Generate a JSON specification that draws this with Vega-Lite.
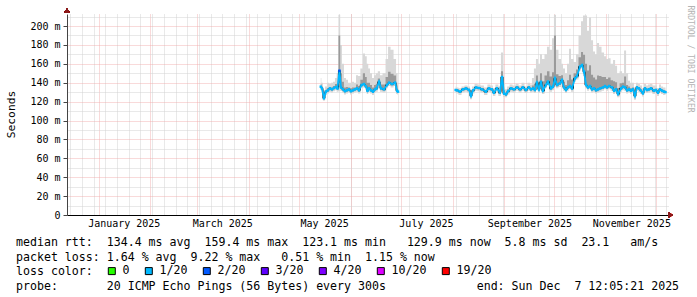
{
  "$schema": "https://vega.github.io/schema/vega-lite/v6.json",
  "width": 601,
  "height": 201,
  "autosize": {"type": "none"},
  "padding": {"left": 67, "top": 14, "right": 29, "bottom": 82},
  "background": "#ffffff",
  "config": {
    "font": "DejaVu Sans Mono",
    "view": {"stroke": null},
    "legend": {"labelFont": "DejaVu Sans Mono"}
  },
  "title": {
    "text": [
      "median rtt:\u00a0\u00a0134.4 ms avg\u00a0\u00a0159.4 ms max\u00a0\u00a0123.1 ms min\u00a0\u00a0\u00a0129.9 ms now\u00a0\u00a05.8 ms sd\u00a0\u00a023.1\u00a0\u00a0\u00a0am/s",
      "packet loss: 1.64 % avg\u00a0\u00a09.22 % max\u00a0\u00a0\u00a00.51 % min\u00a0\u00a01.15 % now",
      "loss color:",
      "probe:\u00a0\u00a0\u00a0\u00a0\u00a0\u00a0\u00a020 ICMP Echo Pings (56 Bytes) every 300s\u00a0\u00a0\u00a0\u00a0\u00a0\u00a0\u00a0\u00a0\u00a0\u00a0\u00a0\u00a0\u00a0end: Sun Dec\u00a0\u00a07 12:05:21 2025"
    ],
    "orient": "bottom",
    "anchor": "start",
    "frame": "group",
    "dx": -51,
    "dy": -46,
    "offset": 6,
    "font": "DejaVu Sans Mono",
    "fontSize": 11.6,
    "fontWeight": "normal",
    "color": "#000000",
    "lineHeight": 14.5
  },
  "data": {
    "values": [
      {"t": "2025-05-14T00:00", "seg": "a", "lo": 132, "q1": 134.3, "med": 135.8, "q3": 138.5, "hi": 145, "loss": "1/20"},
      {"t": "2025-05-14T17:00", "seg": "a", "lo": 130.5, "q1": 132.5, "med": 134, "q3": 136, "hi": 140, "loss": "1/20"},
      {"t": "2025-05-15T22:00", "seg": "a", "lo": 121, "q1": 122.5, "med": 123.5, "q3": 126, "hi": 132, "loss": "1/20"},
      {"t": "2025-05-17T02:00", "seg": "a", "lo": 127, "q1": 129, "med": 130.5, "q3": 132, "hi": 136, "loss": "1/20"},
      {"t": "2025-05-18T07:00", "seg": "a", "lo": 128.5, "q1": 130.5, "med": 132, "q3": 134.5, "hi": 140, "loss": "1/20"},
      {"t": "2025-05-19T12:00", "seg": "a", "lo": 130.5, "q1": 132.5, "med": 134, "q3": 135.5, "hi": 139, "loss": "1/20"},
      {"t": "2025-05-20T17:00", "seg": "a", "lo": 129.5, "q1": 131.5, "med": 133, "q3": 135, "hi": 140, "loss": "1/20"},
      {"t": "2025-05-21T22:00", "seg": "a", "lo": 131, "q1": 133, "med": 134.4, "q3": 136.5, "hi": 141, "loss": "1/20"},
      {"t": "2025-05-23T02:00", "seg": "a", "lo": 132, "q1": 134, "med": 135.4, "q3": 138.5, "hi": 145, "loss": "1/20"},
      {"t": "2025-05-24T00:00", "seg": "a", "lo": 130.5, "q1": 132.5, "med": 134, "q3": 139, "hi": 150, "loss": "1/20"},
      {"t": "2025-05-25T05:00", "seg": "a", "lo": 131, "q1": 140, "med": 152.7, "q3": 190, "hi": 212, "loss": "2/20"},
      {"t": "2025-05-26T02:00", "seg": "a", "lo": 131.5, "q1": 133.5, "med": 135, "q3": 150, "hi": 180, "loss": "1/20"},
      {"t": "2025-05-27T07:00", "seg": "a", "lo": 129.5, "q1": 131.5, "med": 133, "q3": 141, "hi": 160, "loss": "1/20"},
      {"t": "2025-05-28T12:00", "seg": "a", "lo": 127.5, "q1": 129.5, "med": 131, "q3": 135, "hi": 145, "loss": "1/20"},
      {"t": "2025-05-29T17:00", "seg": "a", "lo": 128.5, "q1": 130.5, "med": 132, "q3": 135.5, "hi": 143, "loss": "1/20"},
      {"t": "2025-05-30T22:00", "seg": "a", "lo": 129.5, "q1": 131.5, "med": 133, "q3": 135, "hi": 140, "loss": "1/20"},
      {"t": "2025-06-01T02:00", "seg": "a", "lo": 127.5, "q1": 129.5, "med": 131, "q3": 134, "hi": 140, "loss": "1/20"},
      {"t": "2025-06-02T07:00", "seg": "a", "lo": 128.5, "q1": 130.5, "med": 132, "q3": 135, "hi": 141, "loss": "1/20"},
      {"t": "2025-06-03T12:00", "seg": "a", "lo": 129.5, "q1": 131.5, "med": 133, "q3": 135, "hi": 140, "loss": "1/20"},
      {"t": "2025-06-04T17:00", "seg": "a", "lo": 130.5, "q1": 132.5, "med": 134, "q3": 138, "hi": 148, "loss": "1/20"},
      {"t": "2025-06-05T22:00", "seg": "a", "lo": 128.5, "q1": 130.5, "med": 132, "q3": 136.5, "hi": 147, "loss": "1/20"},
      {"t": "2025-06-07T12:00", "seg": "a", "lo": 134, "q1": 136, "med": 137.6, "q3": 143, "hi": 155, "loss": "1/20"},
      {"t": "2025-06-08T22:00", "seg": "a", "lo": 135, "q1": 137, "med": 138.6, "q3": 150, "hi": 171, "loss": "1/20"},
      {"t": "2025-06-10T02:00", "seg": "a", "lo": 132.5, "q1": 134.5, "med": 136, "q3": 146, "hi": 168, "loss": "1/20"},
      {"t": "2025-06-11T00:00", "seg": "a", "lo": 128, "q1": 130, "med": 131.5, "q3": 140, "hi": 160, "loss": "1/20"},
      {"t": "2025-06-11T22:00", "seg": "a", "lo": 130.5, "q1": 132.5, "med": 134, "q3": 140, "hi": 155, "loss": "1/20"},
      {"t": "2025-06-13T02:00", "seg": "a", "lo": 128.5, "q1": 130.5, "med": 132, "q3": 137.5, "hi": 150, "loss": "1/20"},
      {"t": "2025-06-14T07:00", "seg": "a", "lo": 127, "q1": 129, "med": 130.5, "q3": 135, "hi": 145, "loss": "1/20"},
      {"t": "2025-06-15T12:00", "seg": "a", "lo": 129.5, "q1": 131.5, "med": 133, "q3": 137.5, "hi": 148, "loss": "1/20"},
      {"t": "2025-06-16T10:00", "seg": "a", "lo": 130.5, "q1": 132.5, "med": 134, "q3": 139, "hi": 150, "loss": "1/20"},
      {"t": "2025-06-17T22:00", "seg": "a", "lo": 137, "q1": 139, "med": 141, "q3": 144.5, "hi": 152, "loss": "1/20"},
      {"t": "2025-06-19T02:00", "seg": "a", "lo": 130.5, "q1": 132.5, "med": 134, "q3": 138, "hi": 148, "loss": "1/20"},
      {"t": "2025-06-20T22:00", "seg": "a", "lo": 129.5, "q1": 131.5, "med": 133, "q3": 138, "hi": 150, "loss": "1/20"},
      {"t": "2025-06-22T17:00", "seg": "a", "lo": 134, "q1": 136, "med": 137.6, "q3": 146, "hi": 165, "loss": "1/20"},
      {"t": "2025-06-23T22:00", "seg": "a", "lo": 136.5, "q1": 138.5, "med": 140, "q3": 151.5, "hi": 178, "loss": "1/20"},
      {"t": "2025-06-25T17:00", "seg": "a", "lo": 135, "q1": 137, "med": 138.6, "q3": 149.5, "hi": 175, "loss": "1/20"},
      {"t": "2025-06-27T12:00", "seg": "a", "lo": 136.5, "q1": 138.5, "med": 140, "q3": 147.5, "hi": 165, "loss": "1/20"},
      {"t": "2025-06-28T17:00", "seg": "a", "lo": 128, "q1": 130, "med": 131.5, "q3": 137, "hi": 150, "loss": "1/20"},
      {"t": "2025-06-29T07:00", "seg": "a", "lo": 127, "q1": 129, "med": 130.5, "q3": 133.5, "hi": 140, "loss": "1/20"},
      {"t": "2025-08-02T19:00", "seg": "b", "lo": 129, "q1": 131, "med": 132.3, "q3": 133.5, "hi": 136, "loss": "1/20"},
      {"t": "2025-08-03T14:00", "seg": "b", "lo": 128.5, "q1": 130.5, "med": 132, "q3": 133, "hi": 135, "loss": "1/20"},
      {"t": "2025-08-05T10:00", "seg": "b", "lo": 127, "q1": 129, "med": 130.5, "q3": 131.5, "hi": 134, "loss": "1/20"},
      {"t": "2025-08-07T05:00", "seg": "b", "lo": 129.5, "q1": 131.5, "med": 133, "q3": 134, "hi": 136, "loss": "1/20"},
      {"t": "2025-08-09T00:00", "seg": "b", "lo": 130.5, "q1": 132.5, "med": 134, "q3": 135, "hi": 137, "loss": "1/20"},
      {"t": "2025-08-10T19:00", "seg": "b", "lo": 129, "q1": 131, "med": 132.5, "q3": 133.5, "hi": 136, "loss": "1/20"},
      {"t": "2025-08-12T00:00", "seg": "b", "lo": 122.5, "q1": 124.5, "med": 126, "q3": 128, "hi": 132, "loss": "1/20"},
      {"t": "2025-08-13T05:00", "seg": "b", "lo": 128.5, "q1": 130.5, "med": 132, "q3": 133, "hi": 136, "loss": "1/20"},
      {"t": "2025-08-15T00:00", "seg": "b", "lo": 131.5, "q1": 133.5, "med": 135, "q3": 136, "hi": 139, "loss": "1/20"},
      {"t": "2025-08-16T19:00", "seg": "b", "lo": 131, "q1": 133, "med": 134.4, "q3": 135.5, "hi": 138, "loss": "1/20"},
      {"t": "2025-08-18T14:00", "seg": "b", "lo": 129.5, "q1": 131.5, "med": 133, "q3": 134, "hi": 137, "loss": "1/20"},
      {"t": "2025-08-20T22:00", "seg": "b", "lo": 127, "q1": 129, "med": 130.5, "q3": 132, "hi": 135, "loss": "1/20"},
      {"t": "2025-08-22T17:00", "seg": "b", "lo": 130.5, "q1": 132.5, "med": 134, "q3": 135, "hi": 138, "loss": "1/20"},
      {"t": "2025-08-24T12:00", "seg": "b", "lo": 129.5, "q1": 131.5, "med": 133, "q3": 134, "hi": 137, "loss": "1/20"},
      {"t": "2025-08-25T17:00", "seg": "b", "lo": 126, "q1": 128, "med": 129.4, "q3": 131, "hi": 134, "loss": "1/20"},
      {"t": "2025-08-27T12:00", "seg": "b", "lo": 130.5, "q1": 132.5, "med": 134, "q3": 135, "hi": 138, "loss": "1/20"},
      {"t": "2025-08-29T07:00", "seg": "b", "lo": 126, "q1": 128, "med": 129.8, "q3": 132, "hi": 136, "loss": "1/20"},
      {"t": "2025-08-30T14:00", "seg": "b", "lo": 131, "q1": 140, "med": 146, "q3": 152, "hi": 172, "loss": "1/20"},
      {"t": "2025-08-31T19:00", "seg": "b", "lo": 125, "q1": 127, "med": 128.5, "q3": 132, "hi": 140, "loss": "1/20"},
      {"t": "2025-09-02T00:00", "seg": "b", "lo": 124.5, "q1": 126, "med": 127.7, "q3": 129.5, "hi": 133, "loss": "1/20"},
      {"t": "2025-09-03T05:00", "seg": "b", "lo": 127.5, "q1": 129.5, "med": 131, "q3": 133, "hi": 136, "loss": "1/20"},
      {"t": "2025-09-05T00:00", "seg": "b", "lo": 130.5, "q1": 132.5, "med": 134, "q3": 135.5, "hi": 138, "loss": "1/20"},
      {"t": "2025-09-06T19:00", "seg": "b", "lo": 129.5, "q1": 131.5, "med": 133, "q3": 134.5, "hi": 137, "loss": "1/20"},
      {"t": "2025-09-08T14:00", "seg": "b", "lo": 131.5, "q1": 133.5, "med": 135, "q3": 136.5, "hi": 139, "loss": "1/20"},
      {"t": "2025-09-10T10:00", "seg": "b", "lo": 129.5, "q1": 131.5, "med": 133, "q3": 134.5, "hi": 137, "loss": "1/20"},
      {"t": "2025-09-12T02:00", "seg": "b", "lo": 131.5, "q1": 133.5, "med": 135, "q3": 136.5, "hi": 140, "loss": "1/20"},
      {"t": "2025-09-13T22:00", "seg": "b", "lo": 129, "q1": 131, "med": 132.3, "q3": 133.5, "hi": 136, "loss": "1/20"},
      {"t": "2025-09-15T17:00", "seg": "b", "lo": 131.5, "q1": 133.5, "med": 135, "q3": 136.5, "hi": 140, "loss": "1/20"},
      {"t": "2025-09-16T22:00", "seg": "b", "lo": 129.5, "q1": 131.5, "med": 133, "q3": 134.5, "hi": 138, "loss": "1/20"},
      {"t": "2025-09-18T02:00", "seg": "b", "lo": 130.5, "q1": 132.5, "med": 134, "q3": 137, "hi": 145, "loss": "1/20"},
      {"t": "2025-09-19T07:00", "seg": "b", "lo": 129, "q1": 131, "med": 132.3, "q3": 139, "hi": 155, "loss": "1/20"},
      {"t": "2025-09-20T12:00", "seg": "b", "lo": 136.5, "q1": 138.5, "med": 140, "q3": 147.5, "hi": 165, "loss": "1/20"},
      {"t": "2025-09-21T17:00", "seg": "b", "lo": 129.5, "q1": 131.5, "med": 133, "q3": 141, "hi": 160, "loss": "1/20"},
      {"t": "2025-09-22T22:00", "seg": "b", "lo": 137.5, "q1": 139.5, "med": 141, "q3": 150, "hi": 170, "loss": "1/20"},
      {"t": "2025-09-24T02:00", "seg": "b", "lo": 128, "q1": 130, "med": 131.5, "q3": 141.5, "hi": 165, "loss": "1/20"},
      {"t": "2025-09-25T22:00", "seg": "b", "lo": 134, "q1": 136, "med": 137.6, "q3": 147.5, "hi": 170, "loss": "1/20"},
      {"t": "2025-09-27T02:00", "seg": "b", "lo": 137.5, "q1": 139.5, "med": 141, "q3": 152, "hi": 178, "loss": "1/20"},
      {"t": "2025-09-28T22:00", "seg": "b", "lo": 130.5, "q1": 132.5, "med": 134, "q3": 146.5, "hi": 175, "loss": "1/20"},
      {"t": "2025-09-30T02:00", "seg": "b", "lo": 132, "q1": 134, "med": 135.8, "q3": 151, "hi": 187, "loss": "1/20"},
      {"t": "2025-10-01T07:00", "seg": "b", "lo": 136, "q1": 141, "med": 144.6, "q3": 190, "hi": 212, "loss": "1/20"},
      {"t": "2025-10-02T12:00", "seg": "b", "lo": 134, "q1": 136, "med": 137.6, "q3": 149, "hi": 175, "loss": "1/20"},
      {"t": "2025-10-04T07:00", "seg": "b", "lo": 135.5, "q1": 137.5, "med": 139.3, "q3": 147, "hi": 165, "loss": "1/20"},
      {"t": "2025-10-05T12:00", "seg": "b", "lo": 139, "q1": 141, "med": 142.9, "q3": 148, "hi": 160, "loss": "1/20"},
      {"t": "2025-10-06T17:00", "seg": "b", "lo": 131.5, "q1": 133.5, "med": 135, "q3": 141, "hi": 155, "loss": "1/20"},
      {"t": "2025-10-07T22:00", "seg": "b", "lo": 129, "q1": 131, "med": 132.3, "q3": 137.5, "hi": 150, "loss": "1/20"},
      {"t": "2025-10-09T02:00", "seg": "b", "lo": 131.5, "q1": 133.5, "med": 135, "q3": 142.5, "hi": 160, "loss": "1/20"},
      {"t": "2025-10-10T07:00", "seg": "b", "lo": 133, "q1": 135, "med": 136.5, "q3": 148.5, "hi": 176, "loss": "1/20"},
      {"t": "2025-10-11T12:00", "seg": "b", "lo": 130.5, "q1": 132.5, "med": 134, "q3": 143.5, "hi": 165, "loss": "1/20"},
      {"t": "2025-10-13T07:00", "seg": "b", "lo": 141, "q1": 143, "med": 144.6, "q3": 150, "hi": 162, "loss": "1/20"},
      {"t": "2025-10-14T12:00", "seg": "b", "lo": 143.5, "q1": 145.5, "med": 147, "q3": 154, "hi": 170, "loss": "1/20"},
      {"t": "2025-10-16T07:00", "seg": "b", "lo": 153, "q1": 155, "med": 157, "q3": 167, "hi": 190, "loss": "1/20"},
      {"t": "2025-10-17T12:00", "seg": "b", "lo": 155, "q1": 157, "med": 158.7, "q3": 172.5, "hi": 205, "loss": "1/20"},
      {"t": "2025-10-18T17:00", "seg": "b", "lo": 147, "q1": 149.5, "med": 151.6, "q3": 169.5, "hi": 211, "loss": "1/20"},
      {"t": "2025-10-19T22:00", "seg": "b", "lo": 134, "q1": 136, "med": 137.6, "q3": 160, "hi": 211, "loss": "1/20"},
      {"t": "2025-10-21T02:00", "seg": "b", "lo": 131.5, "q1": 133.5, "med": 135, "q3": 153, "hi": 195, "loss": "1/20"},
      {"t": "2025-10-22T07:00", "seg": "b", "lo": 133, "q1": 135, "med": 136.5, "q3": 158.5, "hi": 209, "loss": "1/20"},
      {"t": "2025-10-23T12:00", "seg": "b", "lo": 129.5, "q1": 131.5, "med": 133, "q3": 148.5, "hi": 185, "loss": "1/20"},
      {"t": "2025-10-24T17:00", "seg": "b", "lo": 130.5, "q1": 132.5, "med": 134, "q3": 145.5, "hi": 173, "loss": "1/20"},
      {"t": "2025-10-25T22:00", "seg": "b", "lo": 128.5, "q1": 130.5, "med": 132, "q3": 143.5, "hi": 170, "loss": "1/20"},
      {"t": "2025-10-27T02:00", "seg": "b", "lo": 129.5, "q1": 131.5, "med": 133, "q3": 147.5, "hi": 182, "loss": "1/20"},
      {"t": "2025-10-28T07:00", "seg": "b", "lo": 130.5, "q1": 132.5, "med": 134, "q3": 147, "hi": 178, "loss": "1/20"},
      {"t": "2025-10-30T02:00", "seg": "b", "lo": 131.5, "q1": 133.5, "med": 135, "q3": 146, "hi": 172, "loss": "1/20"},
      {"t": "2025-10-31T07:00", "seg": "b", "lo": 133, "q1": 135, "med": 136.5, "q3": 146, "hi": 168, "loss": "1/20"},
      {"t": "2025-11-01T12:00", "seg": "b", "lo": 131.5, "q1": 133.5, "med": 135, "q3": 144, "hi": 165, "loss": "1/20"},
      {"t": "2025-11-02T17:00", "seg": "b", "lo": 133, "q1": 135, "med": 136.5, "q3": 145.5, "hi": 166, "loss": "1/20"},
      {"t": "2025-11-04T12:00", "seg": "b", "lo": 131.5, "q1": 133.5, "med": 135, "q3": 142.5, "hi": 160, "loss": "1/20"},
      {"t": "2025-11-05T17:00", "seg": "b", "lo": 128, "q1": 130, "med": 131.5, "q3": 141.5, "hi": 164, "loss": "1/20"},
      {"t": "2025-11-06T22:00", "seg": "b", "lo": 129.5, "q1": 131.5, "med": 133, "q3": 140.5, "hi": 158, "loss": "1/20"},
      {"t": "2025-11-08T02:00", "seg": "b", "lo": 124.5, "q1": 126.5, "med": 128, "q3": 134.5, "hi": 150, "loss": "1/20"},
      {"t": "2025-11-09T22:00", "seg": "b", "lo": 130.5, "q1": 132.5, "med": 134, "q3": 139.5, "hi": 152, "loss": "1/20"},
      {"t": "2025-11-11T02:00", "seg": "b", "lo": 132, "q1": 134, "med": 135.8, "q3": 140, "hi": 150, "loss": "1/20"},
      {"t": "2025-11-12T07:00", "seg": "b", "lo": 131.5, "q1": 133.5, "med": 135, "q3": 146.5, "hi": 174, "loss": "1/20"},
      {"t": "2025-11-13T12:00", "seg": "b", "lo": 128.5, "q1": 130.5, "med": 132, "q3": 137.5, "hi": 150, "loss": "1/20"},
      {"t": "2025-11-14T17:00", "seg": "b", "lo": 129.5, "q1": 131.5, "med": 133, "q3": 136, "hi": 142, "loss": "1/20"},
      {"t": "2025-11-15T19:00", "seg": "b", "lo": 128, "q1": 130, "med": 131.5, "q3": 134, "hi": 140, "loss": "1/20"},
      {"t": "2025-11-17T00:00", "seg": "b", "lo": 129.5, "q1": 131.5, "med": 133, "q3": 135, "hi": 140, "loss": "1/20"},
      {"t": "2025-11-18T05:00", "seg": "b", "lo": 122, "q1": 124.5, "med": 126, "q3": 129, "hi": 135, "loss": "1/20"},
      {"t": "2025-11-19T10:00", "seg": "b", "lo": 131.5, "q1": 133.5, "med": 135, "q3": 136.5, "hi": 140, "loss": "1/20"},
      {"t": "2025-11-20T14:00", "seg": "b", "lo": 130.5, "q1": 132.5, "med": 134, "q3": 135.5, "hi": 139, "loss": "1/20"},
      {"t": "2025-11-21T19:00", "seg": "b", "lo": 128, "q1": 130, "med": 131.5, "q3": 133, "hi": 137, "loss": "1/20"},
      {"t": "2025-11-23T00:00", "seg": "b", "lo": 125.5, "q1": 127.5, "med": 128.8, "q3": 130.5, "hi": 134, "loss": "1/20"},
      {"t": "2025-11-24T05:00", "seg": "b", "lo": 130.5, "q1": 132.5, "med": 134, "q3": 135.5, "hi": 139, "loss": "1/20"},
      {"t": "2025-11-25T10:00", "seg": "b", "lo": 129, "q1": 131, "med": 132.3, "q3": 133.5, "hi": 137, "loss": "1/20"},
      {"t": "2025-11-26T14:00", "seg": "b", "lo": 129.5, "q1": 131.5, "med": 133, "q3": 134.5, "hi": 138, "loss": "1/20"},
      {"t": "2025-11-27T19:00", "seg": "b", "lo": 130.5, "q1": 132.5, "med": 134, "q3": 135.5, "hi": 139, "loss": "1/20"},
      {"t": "2025-11-29T14:00", "seg": "b", "lo": 128, "q1": 130, "med": 131.5, "q3": 133, "hi": 137, "loss": "1/20"},
      {"t": "2025-11-30T19:00", "seg": "b", "lo": 129, "q1": 131, "med": 132.3, "q3": 133.5, "hi": 137, "loss": "1/20"},
      {"t": "2025-12-02T00:00", "seg": "b", "lo": 126, "q1": 128, "med": 129.4, "q3": 131, "hi": 134, "loss": "1/20"},
      {"t": "2025-12-03T05:00", "seg": "b", "lo": 129.5, "q1": 131.5, "med": 133, "q3": 134.5, "hi": 138, "loss": "1/20"},
      {"t": "2025-12-04T10:00", "seg": "b", "lo": 128, "q1": 130, "med": 131.5, "q3": 133, "hi": 136, "loss": "1/20"},
      {"t": "2025-12-05T14:00", "seg": "b", "lo": 127, "q1": 129, "med": 130.5, "q3": 132, "hi": 135, "loss": "1/20"},
      {"t": "2025-12-06T12:00", "seg": "b", "lo": 127, "q1": 129, "med": 130, "q3": 132, "hi": 135, "loss": "1/20"}
    ]
  },
  "layer": [
    {
      "mark": {"type": "area", "color": "#d8d8d8", "interpolate": "step"},
      "encoding": {
        "x": {
          "field": "t", "type": "temporal",
          "scale": {"domain": [{"year": 2024, "month": 12, "date": 13}, {"year": 2025, "month": 12, "date": 8}]},
          "axis": {
            "orient": "bottom",
            "values": [
              {"year": 2025, "month": 1, "date": 16},
              {"year": 2025, "month": 3, "date": 16},
              {"year": 2025, "month": 5, "date": 16},
              {"year": 2025, "month": 7, "date": 16},
              {"year": 2025, "month": 9, "date": 16},
              {"year": 2025, "month": 11, "date": 16}
            ],
            "format": "%B %Y",
            "grid": false, "ticks": false,
            "domain": true, "domainColor": "#000000", "domainWidth": 1,
            "labelFont": "DejaVu Sans Mono", "labelFontSize": 10, "labelColor": "#000000",
            "labelPadding": 3, "labelOverlap": false, "labelFlush": false,
            "title": null
          }
        },
        "y": {
          "field": "lo", "type": "quantitative",
          "scale": {"domain": [0, 212.7], "nice": false, "zero": true},
          "axis": {
            "orient": "left",
            "values": [0, 20, 40, 60, 80, 100, 120, 140, 160, 180, 200],
            "labelExpr": "datum.value == 0 ? '0' : datum.value + ' m'",
            "grid": true, "gridColor": "#f0a8a8", "gridDash": [1, 1], "gridWidth": 1, "gridOpacity": 0.85,
            "ticks": true, "tickSize": 4, "tickColor": "#444444",
            "domain": true, "domainColor": "#444444",
            "labelFont": "DejaVu Sans Mono", "labelFontSize": 10, "labelColor": "#000000", "labelPadding": 3,
            "title": "Seconds",
            "titleFont": "DejaVu Sans Mono", "titleFontSize": 11.3, "titleFontWeight": "normal", "titleColor": "#000000",
            "titleAngle": -90, "titleX": -56, "titleY": 100, "titleAlign": "center", "titleBaseline": "middle"
          }
        },
        "y2": {"field": "hi"},
        "detail": {"field": "seg"}
      }
    },
    {
      "mark": {"type": "area", "color": "#9a9a9a", "interpolate": "step"},
      "encoding": {
        "x": {
          "field": "t", "type": "temporal",
          "axis": {
            "orient": "top",
            "tickCount": {"interval": "week", "step": 1},
            "grid": true, "gridColor": "#d2d2d2", "gridDash": [1, 1],
            "labels": false, "ticks": false, "domain": false, "title": null
          }
        },
        "y": {
          "field": "q1", "type": "quantitative",
          "axis": {
            "orient": "right",
            "values": [10, 30, 50, 70, 90, 110, 130, 150, 170, 190, 210],
            "grid": true, "gridColor": "#d2d2d2", "gridDash": [1, 1],
            "labels": false, "ticks": false, "domain": false,
            "title": "RRDTOOL / TOBI OETIKER",
            "titleFont": "DejaVu Sans Mono", "titleFontSize": 8.1, "titleFontWeight": "normal", "titleColor": "#b4b4b4",
            "titleAngle": 90, "titleX": 21, "titleY": -9, "titleAlign": "left", "titleBaseline": "middle"
          }
        },
        "y2": {"field": "q3"},
        "detail": {"field": "seg"}
      }
    },
    {
      "mark": {"type": "line", "color": "#111111", "strokeWidth": 1, "interpolate": "step"},
      "encoding": {
        "x": {
          "field": "t", "type": "temporal",
          "axis": {
            "orient": "top",
            "tickCount": {"interval": "month", "step": 1},
            "grid": true, "gridColor": "#f0a8a8", "gridDash": [1, 1], "gridOpacity": 0.85,
            "labels": false, "ticks": false, "domain": false, "title": null
          }
        },
        "y": {"field": "med", "type": "quantitative", "axis": null},
        "detail": {"field": "seg"}
      }
    },
    {
      "mark": {"type": "line", "color": "#00b8ff", "strokeWidth": 1.8},
      "encoding": {
        "x": {"field": "t", "type": "temporal", "axis": null},
        "y": {"field": "med", "type": "quantitative", "axis": null},
        "detail": {"field": "seg"}
      }
    },
    {
      "mark": {"type": "point", "shape": "square", "filled": true, "size": 6, "opacity": 1},
      "encoding": {
        "x": {"field": "t", "type": "temporal", "axis": null},
        "y": {"field": "med", "type": "quantitative", "axis": null},
        "color": {
          "field": "loss", "type": "nominal",
          "scale": {
            "domain": ["0", "1/20", "2/20", "3/20", "4/20", "10/20", "19/20"],
            "range": ["#26ff00", "#00b8ff", "#0059ff", "#5e00ff", "#7e00ff", "#dd00ff", "#ff0000"]
          },
          "legend": {
            "orient": "none", "legendX": 39, "legendY": 251,
            "direction": "horizontal", "columns": 7, "title": null,
            "symbolType": "square", "symbolSize": 49, "symbolStrokeColor": "#000000", "symbolStrokeWidth": 1,
            "symbolOpacity": 1,
            "labelFont": "DejaVu Sans Mono", "labelFontSize": 11.6, "labelColor": "#000000",
            "labelOffset": 5, "columnPadding": 13, "padding": 0,
            "encode": {"symbols": {"update": {"stroke": {"value": "#000000"}, "strokeWidth": {"value": 1}}}}
          }
        }
      }
    },
    {
      "mark": {"type": "point", "shape": "triangle-up", "filled": true, "size": 28, "color": "#8b1a1a", "opacity": 1, "yOffset": -3.5},
      "encoding": {
        "x": {"datum": {"year": 2024, "month": 12, "date": 13}, "type": "temporal", "axis": null},
        "y": {"datum": 212.7, "type": "quantitative", "axis": null}
      }
    },
    {
      "mark": {"type": "point", "shape": "triangle-right", "filled": true, "size": 28, "color": "#8b1a1a", "opacity": 1, "xOffset": 2.5},
      "encoding": {
        "x": {"datum": {"year": 2025, "month": 12, "date": 8}, "type": "temporal", "axis": null},
        "y": {"datum": 0, "type": "quantitative", "axis": null}
      }
    }
  ],
  "resolve": {"axis": {"x": "independent", "y": "independent"}}
}
